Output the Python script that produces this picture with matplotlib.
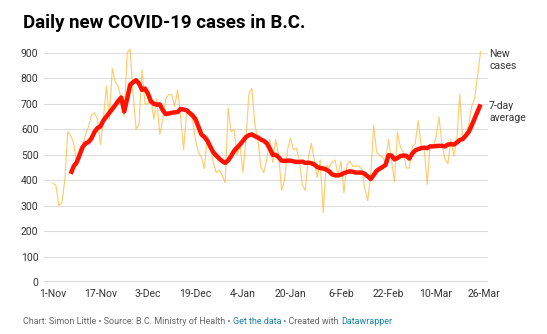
import matplotlib
matplotlib.use("Agg")
import matplotlib.pyplot as plt
import pandas as pd

plt.rcParams['font.family'] = ['Roboto', 'DejaVu Sans']

# ---- data ----
start_new = "2020-11-01"
new_cases = [388, 380, 300, 310, 400, 590, 575, 545, 465, 520,
             540, 580, 610, 655, 665, 640, 540, 640, 770, 640,
             840, 785, 770, 720, 650, 900, 915, 740, 600, 620,
             835, 700, 700, 720, 640, 720, 580, 640, 720, 737,
             735, 690, 755, 650, 520, 665, 660, 640, 560, 510,
             490, 445, 575, 530, 470, 430, 440, 420, 390, 684,
             590, 600, 500, 540, 430, 560, 740, 760, 620, 560,
             450, 430, 480, 560, 470, 560, 500, 360, 400, 520,
             565, 520, 525, 475, 380, 360, 490, 545, 480, 410,
             480, 273, 460, 450, 470, 480, 420, 475, 350, 460,
             475, 455, 455, 455, 445, 370, 320, 415, 615, 510,
             497, 490, 470, 560, 480, 393, 589, 530, 510, 448,
             448, 530, 545, 635, 533, 530, 384, 540, 530, 570,
             649, 540, 485, 465, 560, 495, 560, 737, 555, 570,
             620, 690, 720, 810, 906]

start_avg = "2020-11-07"
avg7 = [425, 455, 470, 500, 530, 545, 550, 565, 590, 605,
        612, 635, 650, 665, 680, 695, 712, 725, 670, 720,
        775, 785, 793, 780, 755, 760, 740, 710, 700, 697,
        698, 675, 660, 662, 665, 667, 668, 680, 678, 675,
        665, 655, 640, 610, 580, 570, 555, 532, 510, 497,
        485, 475, 468, 478, 495, 515, 528, 540, 555, 570,
        577, 580, 573, 568, 560, 555, 545, 525, 500, 500,
        490, 477, 476, 477, 477, 474, 472, 472, 473, 468,
        469, 467, 462, 452, 448, 446, 442, 435, 423, 419,
        419, 422, 428, 432, 435, 433, 430, 430, 430, 425,
        415, 405, 420, 437, 445, 452, 460, 498, 497, 482,
        487, 495, 497, 496, 485, 505, 517, 522, 526, 528,
        526, 533, 533, 534, 535, 535, 533, 540, 542, 540,
        548, 558, 562, 575, 590, 615, 643, 670, 698]

tick_dates = ["2020-11-01", "2020-11-17", "2020-12-03", "2020-12-19", "2021-01-04",
              "2021-01-20", "2021-02-06", "2021-02-22", "2021-03-10", "2021-03-26"]
tick_labels = ["1-Nov", "17-Nov", "3-Dec", "19-Dec", "4-Jan",
               "20-Jan", "6-Feb", "22-Feb", "10-Mar", "26-Mar"]
y_ticks = [0, 100, 200, 300, 400, 500, 600, 700, 800, 900]

x_new = pd.date_range(start_new, periods=len(new_cases), freq="D")
x_avg = pd.date_range(start_avg, periods=len(avg7), freq="D")

W, H = 547, 334
fig = plt.figure(figsize=(W / 100, H / 100), dpi=100)
ax = fig.add_axes([44 / W, 1 - 282 / H, (488 - 44) / W, (282 - 53) / H])

for v in y_ticks[1:]:
    ax.axhline(v, color="#dddddd", lw=0.8, zorder=0)
ax.axhline(0, color="#333333", lw=1.0, zorder=1)

ax.plot(x_new, new_cases, color="#ffb733", alpha=0.7, lw=0.85, zorder=2, clip_on=False)
ax.plot(x_avg, avg7, color="#ff1200", lw=3.2, zorder=3, solid_capstyle="butt",
        solid_joinstyle="round", clip_on=False)

ax.set_ylim(0, 900)
ax.set_xlim(pd.Timestamp("2020-10-29"), pd.Timestamp("2021-03-27 12:00"))
for s in ax.spines.values():
    s.set_visible(False)
ax.set_yticks(y_ticks)
ax.set_yticklabels([str(v) for v in y_ticks], fontsize=7.5, color="#333333")
ax.set_xticks([pd.Timestamp(d) for d in tick_dates])
ax.set_xticklabels(tick_labels, fontsize=7.5, color="#333333")
ax.tick_params(axis="both", length=0)
ax.tick_params(axis="y", pad=4)
ax.tick_params(axis="x", pad=5)

# series labels
fig.text(489 / W, 1 - 49 / H, "New\ncases", ha="left", va="top", fontsize=7.5,
         color="#333333", linespacing=1.3)
fig.text(489 / W, 1 - 101 / H, "7-day\naverage", ha="left", va="top", fontsize=7.5,
         color="#333333", linespacing=1.3)

# title
fig.text(23 / W, 1 - 28 / H, "Daily new COVID-19 cases in B.C.", ha="left", va="baseline",
         fontsize=13.5, fontweight="bold", color="#000000")

# footer
parts = [("Chart: Simon Little • Source: B.C. Ministry of Health • ", "#666666"),
         ("Get the data", "#1d81a2"),
         (" • Created with ", "#666666"),
         ("Datawrapper", "#1d81a2")]
fig.canvas.draw()
renderer = fig.canvas.get_renderer()
xpos = 23
for txt, col in parts:
    t = fig.text(xpos / W, 1 - 324 / H, txt, ha="left", va="baseline", fontsize=6.5, color=col)
    bb = t.get_window_extent(renderer=renderer)
    xpos += bb.width

fig.savefig("out.png", dpi=100)
